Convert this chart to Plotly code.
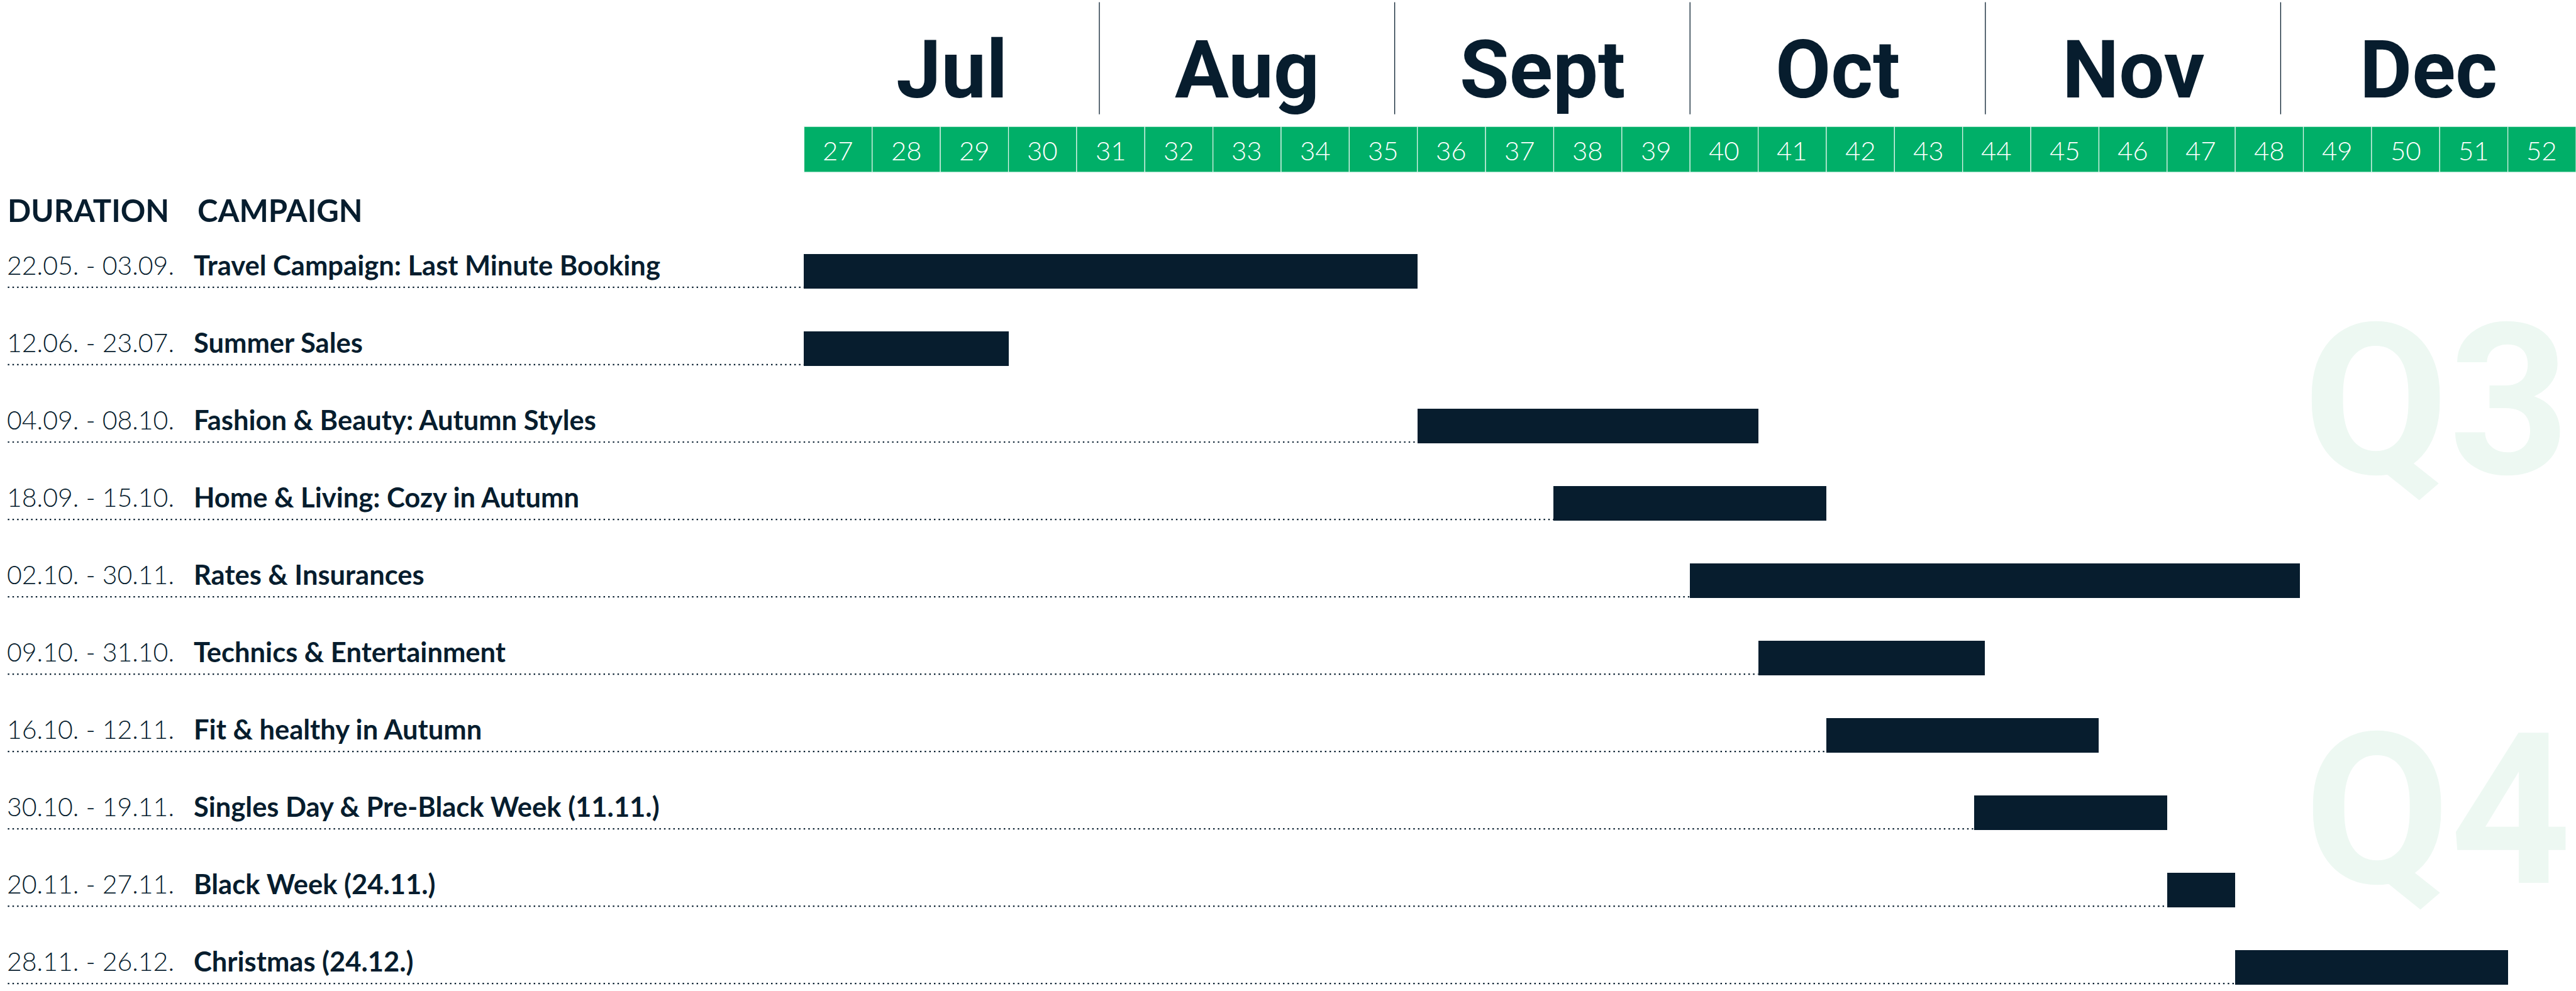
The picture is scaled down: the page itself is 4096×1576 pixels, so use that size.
import plotly.graph_objects as go

# ---------------- data ----------------
durations = ["22.05. - 03.09.", "12.06. - 23.07.", "04.09. - 08.10.", "18.09. - 15.10.",
             "02.10. - 30.11.", "09.10. - 31.10.", "16.10. - 12.11.", "30.10. - 19.11.",
             "20.11. - 27.11.", "28.11. - 26.12."]
campaigns = ["Travel Campaign: Last Minute Booking", "Summer Sales",
             "Fashion & Beauty: Autumn Styles", "Home & Living: Cozy in Autumn",
             "Rates & Insurances", "Technics & Entertainment", "Fit & healthy in Autumn",
             "Singles Day & Pre-Black Week (11.11.)", "Black Week (24.11.)", "Christmas (24.12.)"]
# bar start / end in calendar-week units (week w spans w-0.5 .. w+0.5)
start_week = [26.5, 26.5, 35.5, 37.5, 39.5, 40.5, 41.5, 43.67, 46.5, 47.5]
end_week = [35.5, 29.5, 40.5, 41.5, 48.45, 43.83, 45.5, 46.5, 47.5, 51.5]
weeks = list(range(27, 53))
months = ["Jul", "Aug", "Sept", "Oct", "Nov", "Dec"]
quarters = ["Q3", "Q4"]

# ---------------- style ----------------
NAVY = "#071D2E"
GREEN = "#00AF68"
WATERMARK = "#EDF8F2"
W_FULL, H_FULL = 4620.0, 1778.0
WEEK_LEFT_PX = 1442.0
WEEK_PX = (W_FULL - WEEK_LEFT_PX) / len(weeks)
ROW0_PX, ROW_PX = 487.0, 138.8


def fx(px):
    return px / W_FULL


def fy(py):
    return 1 - py / H_FULL


x_lo = weeks[0] - 0.5 - WEEK_LEFT_PX / WEEK_PX
x_hi = weeks[-1] + 0.5
y_top = -ROW0_PX / ROW_PX
y_bot = (H_FULL - ROW0_PX) / ROW_PX

rows = list(range(len(campaigns)))
fig = go.Figure()

# dotted guide lines (from left edge to bar start)
dx, dy = [], []
x_dot_start = x_lo + 14 / WEEK_PX
for r, s in zip(rows, start_week):
    dx += [x_dot_start, s, None]
    dy += [r + 28.5 / ROW_PX, r + 28.5 / ROW_PX, None]
fig.add_trace(go.Scatter(x=dx, y=dy, mode="lines", hoverinfo="skip",
                         line=dict(color=NAVY, width=2.2, dash="2.4px,5px")))

# bars
fig.add_trace(go.Bar(orientation="h", y=rows,
                     x=[e - s for s, e in zip(start_week, end_week)],
                     base=start_week, width=62 / ROW_PX,
                     marker=dict(color=NAVY, line=dict(width=0)),
                     hoverinfo="skip"))

shapes = []
annotations = []

# green week band
for w in weeks:
    shapes.append(dict(type="rect", xref="x", yref="paper",
                       x0=w - 0.5, x1=w + 0.5, y0=fy(309), y1=fy(227),
                       fillcolor=GREEN, line=dict(color="#E6F6EE", width=1.2),
                       layer="above"))
    annotations.append(dict(xref="x", yref="paper", x=w, y=fy(270), text=str(w),
                            showarrow=False, xanchor="center", yanchor="middle",
                            font=dict(family="Lato", size=42, color="white", weight=300)))

# months
mspan = len(weeks) / len(months)
for k, m in enumerate(months):
    annotations.append(dict(xref="x", yref="paper",
                            x=weeks[0] - 0.5 + (k + 0.5) * mspan, y=fy(125.5), text=m,
                            showarrow=False, xanchor="center", yanchor="middle",
                            font=dict(family="Roboto", size=128, color=NAVY, weight=700)))
    if k > 0:
        xv = weeks[0] - 0.5 + k * mspan
        shapes.append(dict(type="line", xref="x", yref="paper", x0=xv, x1=xv,
                           y0=fy(205), y1=fy(4), line=dict(color=NAVY, width=1.3)))

# quarter watermarks
for q, (cx, cy) in zip(quarters, [(4370, 719.5), (4372, 1454.5)]):
    annotations.append(dict(xref="paper", yref="paper", x=fx(cx), y=fy(cy), text=q,
                            showarrow=False, xanchor="center", yanchor="middle",
                            font=dict(family="Roboto", size=336, color=WATERMARK, weight=700)))

# headers
for txt, px in [("DURATION", 11), ("CAMPAIGN", 352)]:
    annotations.append(dict(xref="paper", yref="paper", x=fx(px), y=fy(377), text=txt,
                            showarrow=False, xanchor="left", yanchor="middle",
                            font=dict(family="Lato", size=49, color=NAVY, weight=700)))

# row labels
for r, d, c in zip(rows, durations, campaigns):
    yv = r - 12 / ROW_PX
    annotations.append(dict(xref="paper", yref="y", x=fx(10), y=yv, text=d,
                            showarrow=False, xanchor="left", yanchor="middle",
                            font=dict(family="Lato", size=41, color=NAVY, weight=300)))
    annotations.append(dict(xref="paper", yref="y", x=fx(345), y=yv, text=c,
                            showarrow=False, xanchor="left", yanchor="middle",
                            font=dict(family="Lato", size=43.5, color=NAVY, weight=700)))

fig.update_layout(
    width=4096, height=1576,
    margin=dict(l=0, r=0, t=0, b=0, pad=0),
    paper_bgcolor="white", plot_bgcolor="white",
    showlegend=False, bargap=0,
    xaxis=dict(range=[x_lo, x_hi], visible=False, domain=[0, 1], fixedrange=True),
    yaxis=dict(range=[y_bot, y_top], visible=False, domain=[0, 1], fixedrange=True),
    shapes=shapes, annotations=annotations,
)

fig.write_html("out.html", config={"displayModeBar": False},
               post_script="document.body.style.margin='0';document.body.style.overflow='hidden';")
